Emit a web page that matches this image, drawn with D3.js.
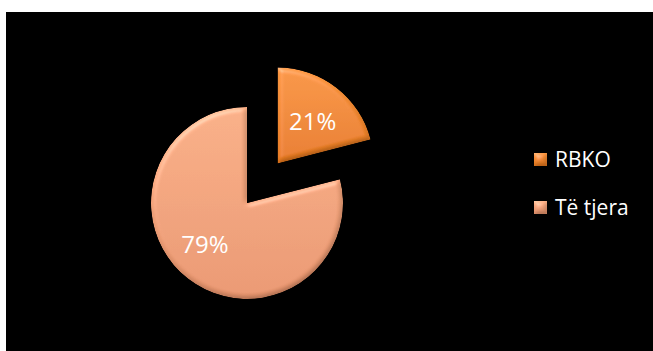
<!DOCTYPE html>
<html>
<head>
<meta charset="utf-8">
<script src="https://cdn.jsdelivr.net/npm/d3@7"></script>
<style>
  html, body { margin: 0; padding: 0; background: #fff; }
  svg { display: block; }
  text { font-family: "Open Sans", "Noto Sans", sans-serif; }
</style>
</head>
<body>
<svg id="chart"></svg>
<script>
const categories = ["RBKO", "Të tjera"];
const values = [21, 79];
const colorTop = ["#F8943E", "#F8AD84"];
const colorBottom = ["#E6791F", "#E8956E"];

const width = 653, height = 351;
const center = { x: 247, y: 203 };
const radius = 96;
const explode = 50;

const svg = d3.select("#chart")
    .attr("width", width)
    .attr("height", height);

// background panel
svg.append("rect")
    .attr("x", 6).attr("y", 12)
    .attr("width", width - 6).attr("height", height - 12)
    .attr("fill", "#000");

const defs = svg.append("defs");

// slice gradients
categories.forEach((c, i) => {
    const grad = defs.append("linearGradient")
        .attr("id", "grad" + i)
        .attr("x1", "0%").attr("y1", "0%")
        .attr("x2", "0%").attr("y2", "100%");
    grad.append("stop").attr("offset", "0%").attr("stop-color", colorTop[i]);
    grad.append("stop").attr("offset", "100%").attr("stop-color", colorBottom[i]);
});

// bevel-ish look: shade by diffuse light, then add a soft highlight
const filter = defs.append("filter").attr("id", "bevel")
    .attr("x", "-10%").attr("y", "-10%").attr("width", "120%").attr("height", "120%");
filter.append("feGaussianBlur").attr("in", "SourceAlpha").attr("stdDeviation", 2.5).attr("result", "blur");
filter.append("feDiffuseLighting")
    .attr("in", "blur").attr("surfaceScale", 3).attr("diffuseConstant", 1)
    .attr("lighting-color", "#fff").attr("result", "diff")
    .append("feDistantLight").attr("azimuth", 240).attr("elevation", 50);
filter.append("feComposite").attr("in", "diff").attr("in2", "SourceGraphic")
    .attr("operator", "arithmetic").attr("k1", 0.65).attr("k2", 0).attr("k3", 0.5).attr("k4", 0)
    .attr("result", "shaded");
filter.append("feSpecularLighting")
    .attr("in", "blur").attr("surfaceScale", 3).attr("specularConstant", 0.5)
    .attr("specularExponent", 20).attr("lighting-color", "#fff").attr("result", "spec")
    .append("feDistantLight").attr("azimuth", 240).attr("elevation", 40);
filter.append("feComposite").attr("in", "shaded").attr("in2", "spec")
    .attr("operator", "arithmetic").attr("k1", 0).attr("k2", 1).attr("k3", 0.35).attr("k4", 0)
    .attr("result", "lit");
filter.append("feComposite").attr("in", "lit").attr("in2", "SourceAlpha").attr("operator", "in");

const pie = d3.pie().sort(null).value(d => d);
const arcs = pie(values);
const arc = d3.arc().innerRadius(0).outerRadius(radius);

const offset = (d, i) => {
    if (i !== 0) return [0, 0];
    const mid = (d.startAngle + d.endAngle) / 2;
    return [Math.sin(mid) * explode, -Math.cos(mid) * explode];
};

const g = svg.append("g").attr("transform", `translate(${center.x},${center.y})`);

g.selectAll("path.slice")
    .data(arcs)
    .join("path")
    .attr("class", "slice")
    .attr("transform", (d, i) => `translate(${offset(d, i)})`)
    .attr("d", arc)
    .attr("fill", (d, i) => `url(#grad${i})`)
    .attr("filter", "url(#bevel)");

const labelPos = [[35, -34], [-42, 50]];
g.selectAll("text.pct")
    .data(arcs)
    .join("text")
    .attr("class", "pct")
    .attr("x", (d, i) => offset(d, i)[0] + labelPos[i][0])
    .attr("y", (d, i) => offset(d, i)[1] + labelPos[i][1])
    .attr("text-anchor", "middle")
    .attr("font-size", 24)
    .attr("fill", "#fff")
    .text(d => Math.round(d.data) + "%");

// legend
const legend = svg.append("g").attr("transform", "translate(534,153)");
const legendItems = legend.selectAll("g")
    .data(categories)
    .join("g")
    .attr("transform", (d, i) => `translate(0,${i * 48})`);

legendItems.append("rect")
    .attr("width", 13).attr("height", 13)
    .attr("fill", (d, i) => `url(#grad${i})`)
    .attr("filter", "url(#bevel)");

legendItems.append("text")
    .attr("x", 21).attr("y", 14)
    .attr("font-size", 21)
    .attr("fill", "#fff")
    .text(d => d);
</script>
</body>
</html>
